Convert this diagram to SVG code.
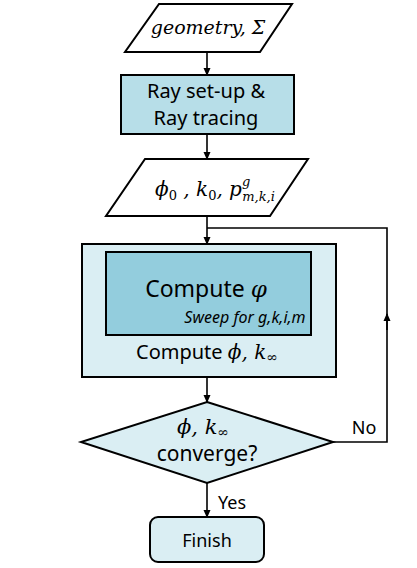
<svg xmlns="http://www.w3.org/2000/svg" width="417" height="568" viewBox="0 0 417 568">
<defs>
<marker id="ah" markerWidth="8" markerHeight="8" refX="7" refY="4" orient="auto" markerUnits="userSpaceOnUse">
<path d="M0,0.5 L8,4 L0,7.5 Z" fill="#000"/>
</marker>
<style>
.shape{stroke:#000;stroke-width:2}
.txt{font-family:"Noto Sans","Open Sans",sans-serif;fill:#000;text-anchor:middle}
.math{font-family:"DejaVu Serif","Liberation Serif",serif;font-style:italic;fill:#000}
.conn{stroke:#000;stroke-width:1.6;fill:none}
</style>
</defs>
<rect width="417" height="568" fill="#fff"/>
<g id="connectors">
<line class="conn" x1="207" y1="52" x2="207" y2="75" marker-end="url(#ah)"/>
<line class="conn" x1="207" y1="134" x2="207" y2="159" marker-end="url(#ah)"/>
<line class="conn" x1="207" y1="216" x2="207" y2="244" marker-end="url(#ah)"/>
<line class="conn" x1="207" y1="377" x2="207" y2="402" marker-end="url(#ah)"/>
<line class="conn" x1="207" y1="483" x2="207" y2="517" marker-end="url(#ah)"/>
<polyline class="conn" points="333,442 387,442 387,228 207,228"/>
<line class="conn" x1="387" y1="330" x2="387" y2="314" marker-end="url(#ah)"/>
<text class="txt" x="364" y="434" font-size="18">No</text>
<text class="txt" x="232" y="509" font-size="18">Yes</text>
</g>
<g id="input1">
<polygon class="shape" points="159,4 292,4 260,52 125,52" fill="#fff"/>
<text class="math" x="208" y="34" font-size="19" text-anchor="middle">geometry, Σ</text>
</g>
<g id="raytrace">
<rect class="shape" x="121" y="75" width="173" height="59" fill="#B7DEE8"/>
<text class="txt" x="206" y="98" font-size="20">Ray set-up &amp;</text>
<text class="txt" x="206" y="125" font-size="20">Ray tracing</text>
</g>
<g id="input2">
<polygon class="shape" points="145,159 308,159 270,216 106,216" fill="#fff"/>
<text class="math" x="155" y="196" font-size="20">ϕ<tspan font-style="normal" font-size="13" dy="4">0</tspan><tspan dy="-4"> , k</tspan><tspan font-style="normal" font-size="13" dy="4">0</tspan><tspan dy="-4">, p</tspan><tspan font-size="13" dy="-10">g</tspan><tspan font-size="13" dx="-8" dy="15">m,k,i</tspan></text>
</g>
<g id="compute">
<rect class="shape" x="82" y="244" width="254" height="133" fill="#DAEEF3"/>
<rect class="shape" x="106" y="252" width="205" height="83" fill="#93CDDD"/>
<text class="txt" x="206" y="297" font-size="23">Compute <tspan class="math">φ</tspan></text>
<text class="txt" x="245" y="323" font-size="16" font-style="italic">Sweep for g,k,i,m</text>
<text class="txt" x="207" y="359" font-size="20">Compute <tspan class="math" font-size="20">ϕ, k</tspan><tspan class="math" font-style="normal" font-size="14" dy="3">∞</tspan></text>
</g>
<g id="decision">
<polygon class="shape" points="207,402 333,442 207,483 81,442" fill="#DAEEF3"/>
<text class="math" x="203" y="434" font-size="21" text-anchor="middle">ϕ, k<tspan font-style="normal" font-size="14" dy="3">∞</tspan></text>
<text class="txt" x="207" y="461" font-size="21">converge?</text>
</g>
<g id="finish">
<rect class="shape" x="150" y="517" width="114" height="45" rx="8" fill="#DAEEF3"/>
<text class="txt" x="207" y="547" font-size="18">Finish</text>
</g>
</svg>
